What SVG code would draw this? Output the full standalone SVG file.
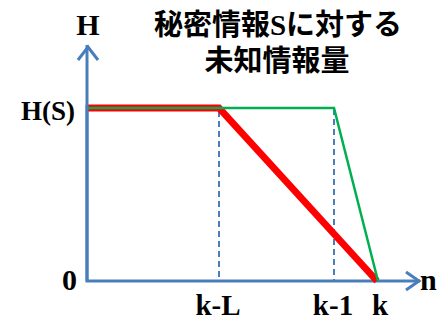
<svg xmlns="http://www.w3.org/2000/svg" width="437" height="322" viewBox="0 0 437 322">
<style>
.lbl{font-family:"Liberation Serif","Times New Roman",serif;font-weight:bold;font-size:30px;fill:#000}
.bot{font-size:29px}
.ttl{font-family:"Noto Sans CJK JP","Noto Sans CJK SC",sans-serif;font-weight:bold;font-size:29px;fill:#000}
.ser{font-family:"Liberation Serif","Times New Roman",serif}
.axis{stroke:#4a7ebb;stroke-width:3;fill:none}
.dash{stroke:#4a7ebb;stroke-width:2;stroke-dasharray:6,4;fill:none}
</style>
<rect width="437" height="322" fill="#fff"/>
<g id="connectors">
<line class="dash" x1="219" y1="111" x2="219" y2="280"/>
<line class="dash" x1="334" y1="109" x2="334" y2="280"/>
<polyline points="87,105 87,281 420,281" class="axis"/>
<polyline points="78,60 88,47 98,60" class="axis"/>
<polyline points="406,272 419,281 406,290" class="axis"/>
<polyline points="87,108 219,108 377,281" fill="none" stroke="#ff0000" stroke-width="7" stroke-linejoin="miter"/>
<polyline points="87,108 334,108 378,281" fill="none" stroke="#00b050" stroke-width="2.5"/>
<line x1="87" y1="281" x2="87" y2="45" class="axis"/>
</g>
<g id="labels">
<text class="lbl" x="88" y="35" text-anchor="middle">H</text>
<text class="lbl" x="21" y="120" style="font-size:27px">H(S)</text>
<text class="lbl" x="62" y="290">0</text>
<text class="lbl bot" x="218" y="315" text-anchor="middle">k-L</text>
<text class="lbl bot" x="333" y="315" text-anchor="middle">k-1</text>
<text class="lbl bot" x="380" y="315" text-anchor="middle">k</text>
<text class="lbl" x="420" y="290">n</text>
</g>
<g id="title">
<text class="ttl" x="278" y="35" text-anchor="middle">秘密情報<tspan class="ser">S</tspan>に対する</text>
<text class="ttl" x="277" y="71" text-anchor="middle">未知情報量</text>
</g>
</svg>
